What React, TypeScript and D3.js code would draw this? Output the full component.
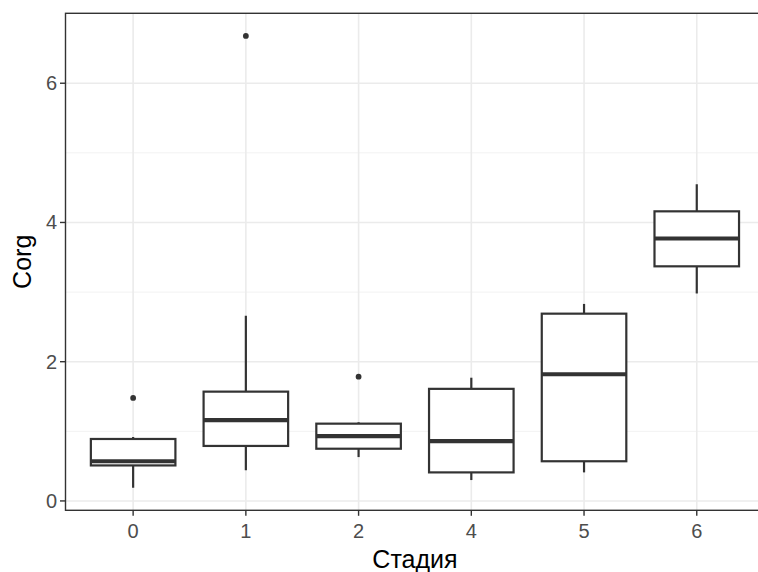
import React from "react";
import * as d3 from "d3";

// Corg by stage: five-number summaries and outliers per stage
const stages = ["0", "1", "2", "4", "5", "6"];
const whiskerLow = [0.19, 0.44, 0.63, 0.3, 0.41, 2.98];
const q1 = [0.51, 0.79, 0.75, 0.41, 0.57, 3.37];
const median = [0.57, 1.16, 0.93, 0.86, 1.82, 3.77];
const q3 = [0.89, 1.57, 1.11, 1.61, 2.69, 4.16];
const whiskerHigh = [0.92, 2.66, 1.13, 1.77, 2.83, 4.55];
const outliers: number[][] = [[1.48], [6.68], [1.785], [], [], []];

const yMajorTicks = [0, 2, 4, 6];
const yMinorTicks = [1, 3, 5];

const xTitle = "Стадия";
const yTitle = "Corg";

const W = 758;
const H = 572;
const panel = { left: 65.5, top: 13.3, right: 764.4, bottom: 510.3 };

const FONT = "'Liberation Sans', Arial, sans-serif";
const INK = "#333333";

export default function App() {
  const allVals = [...whiskerLow, ...whiskerHigh, ...outliers.flat()];
  const lo = d3.min(allVals) as number;
  const hi = d3.max(allVals) as number;
  const span = hi - lo;

  const y = d3
    .scaleLinear()
    .domain([lo - 0.05 * span, hi + 0.05 * span])
    .range([panel.bottom, panel.top]);

  const x = d3
    .scalePoint<string>()
    .domain(stages)
    .range([panel.left, panel.right])
    .padding(0.6);

  const step = x.step();
  const boxW = step * 0.75;

  return (
    <svg
      width={W}
      height={H}
      style={{ position: "absolute", left: 0, top: 0, overflow: "hidden", background: "#fff" }}
    >
      <defs>
        <clipPath id="panel-clip">
          <rect x={panel.left} y={panel.top} width={panel.right - panel.left} height={panel.bottom - panel.top} />
        </clipPath>
      </defs>
      <rect x={0} y={0} width={W} height={H} fill="#fff" />

      <g clipPath="url(#panel-clip)">
        {/* minor grid */}
        {yMinorTicks.map((t) => (
          <line key={"mn" + t} x1={panel.left} x2={panel.right} y1={y(t)} y2={y(t)} stroke="#F2F2F2" strokeWidth={1} />
        ))}
        {/* major grid */}
        {yMajorTicks.map((t) => (
          <line key={"mj" + t} x1={panel.left} x2={panel.right} y1={y(t)} y2={y(t)} stroke="#EBEBEB" strokeWidth={1.6} />
        ))}
        {stages.map((s) => (
          <line key={"vx" + s} x1={x(s)} x2={x(s)} y1={panel.top} y2={panel.bottom} stroke="#EBEBEB" strokeWidth={1.6} />
        ))}

        {/* boxplots */}
        {stages.map((s, i) => {
          const cx = x(s) as number;
          return (
            <g key={"box" + s}>
              <line x1={cx} x2={cx} y1={y(q3[i])} y2={y(whiskerHigh[i])} stroke={INK} strokeWidth={2.2} />
              <line x1={cx} x2={cx} y1={y(q1[i])} y2={y(whiskerLow[i])} stroke={INK} strokeWidth={2.2} />
              <rect
                x={cx - boxW / 2}
                y={y(q3[i])}
                width={boxW}
                height={y(q1[i]) - y(q3[i])}
                fill="#fff"
                stroke={INK}
                strokeWidth={2.2}
              />
              <line x1={cx - boxW / 2} x2={cx + boxW / 2} y1={y(median[i])} y2={y(median[i])} stroke={INK} strokeWidth={4.2} />
              {outliers[i].map((o, j) => (
                <circle key={j} cx={cx} cy={y(o)} r={2.9} fill={INK} />
              ))}
            </g>
          );
        })}
      </g>

      {/* panel border */}
      <rect
        x={panel.left}
        y={panel.top}
        width={panel.right - panel.left}
        height={panel.bottom - panel.top}
        fill="none"
        stroke={INK}
        strokeWidth={1.4}
      />

      {/* y axis */}
      {yMajorTicks.map((t) => (
        <g key={"yt" + t}>
          <line x1={panel.left - 5.5} x2={panel.left} y1={y(t)} y2={y(t)} stroke={INK} strokeWidth={1.4} />
          <text
            x={panel.left - 8.5}
            y={y(t)}
            dy="0.35em"
            textAnchor="end"
            fontFamily={FONT}
            fontSize={20}
            fill="#4D4D4D"
          >
            {t}
          </text>
        </g>
      ))}

      {/* x axis */}
      {stages.map((s) => (
        <g key={"xt" + s}>
          <line x1={x(s)} x2={x(s)} y1={panel.bottom} y2={panel.bottom + 5.5} stroke={INK} strokeWidth={1.4} />
          <text
            x={x(s)}
            y={panel.bottom + 21}
            dy="0.35em"
            textAnchor="middle"
            fontFamily={FONT}
            fontSize={20}
            fill="#4D4D4D"
          >
            {s}
          </text>
        </g>
      ))}

      {/* axis titles */}
      <text
        x={(panel.left + panel.right) / 2}
        y={559}
        dy="0.35em"
        textAnchor="middle"
        fontFamily={FONT}
        fontSize={25}
        fill="#000"
      >
        {xTitle}
      </text>
      <text
        transform={`translate(22, ${(panel.top + panel.bottom) / 2}) rotate(-90)`}
        dy="0.35em"
        textAnchor="middle"
        fontFamily={FONT}
        fontSize={25}
        fill="#000"
      >
        {yTitle}
      </text>
    </svg>
  );
}
